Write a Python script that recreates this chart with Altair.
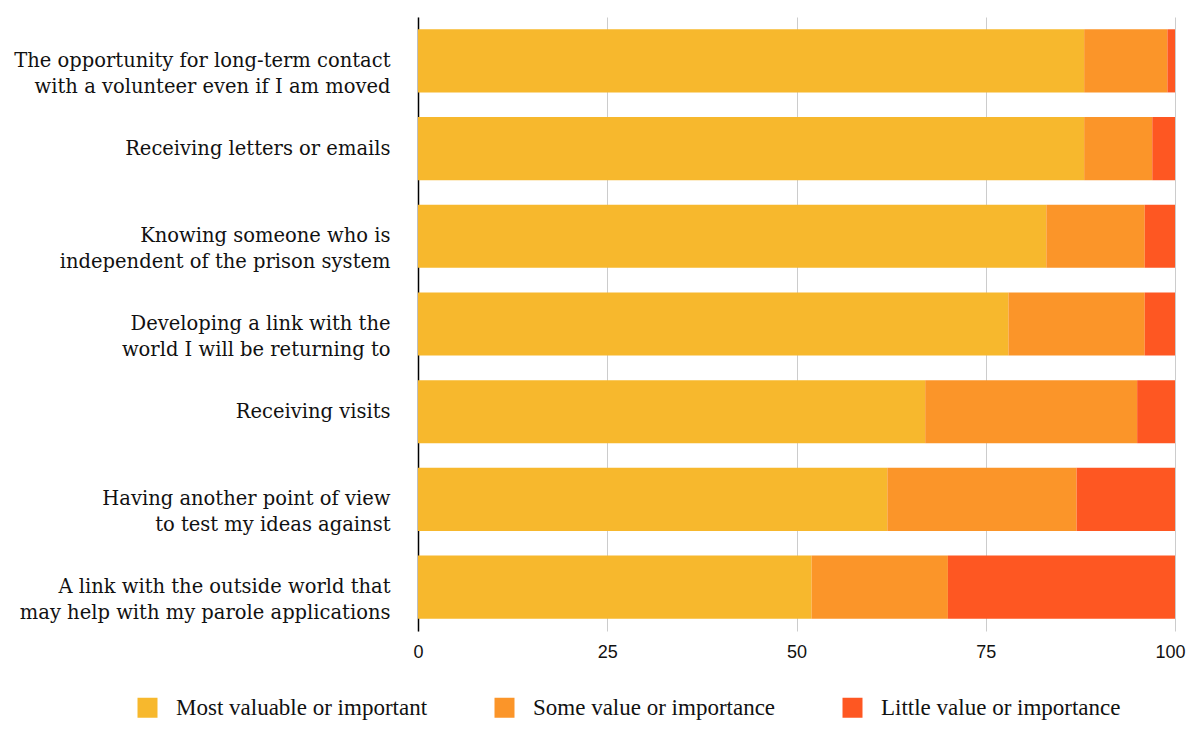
import altair as alt
import pandas as pd

categories = [
    "The opportunity for long-term contact|with a volunteer even if I am moved",
    "Receiving letters or emails",
    "Knowing someone who is|independent of the prison system",
    "Developing a link with the|world I will be returning to ",
    "Receiving visits",
    "Having another point of view|to test my ideas against",
    "A link with the outside world that|may help with my parole applications",
]
series = ["Most valuable or important", "Some value or importance", "Little value or importance"]
most = [88, 88, 83, 78, 67, 62, 52]
some = [11, 9, 13, 18, 28, 25, 18]
little = [1, 3, 4, 4, 5, 13, 30]
colors = ["#F7B82D", "#FB9529", "#FE5722"]

rows = []
for i, c in enumerate(categories):
    for j, (s, v) in enumerate(zip(series, [most[i], some[i], little[i]])):
        rows.append({"cat": c, "series": s, "value": v, "ord": j})
df = pd.DataFrame(rows)

chart = alt.Chart(df).mark_bar().encode(
    y=alt.Y("cat:N", sort=categories, title=None,
            scale=alt.Scale(paddingInner=0.28, paddingOuter=0.14),
            axis=alt.Axis(labelExpr="split(datum.label, '|')", labelFont="DejaVu Serif",
                          labelFontSize=19.5, labelColor="#111", labelLineHeight=26,
                          labelPadding=28, ticks=False, domainColor="#000", domainWidth=1.5,
                          labelLimit=500)),
    x=alt.X("value:Q", title=None, stack="zero",
            scale=alt.Scale(domain=[0, 100], nice=False),
            axis=alt.Axis(values=[0, 25, 50, 75, 100], grid=True, gridColor="#cccccc",
                          domain=False, ticks=False, labelFont="Liberation Sans",
                          labelFontSize=18, labelColor="#111", labelPadding=12,
                          labelFlush=False,
                          labelOffset={"expr": "datum.value == 100 ? -5 : 0"})),
    color=alt.Color("series:N", sort=series,
                    scale=alt.Scale(domain=series, range=colors),
                    legend=alt.Legend(title=None, orient="none", direction="horizontal",
                                      legendX=-282, legendY=679, symbolType="square",
                                      symbolSize=400, symbolStrokeWidth=0, labelFont="Liberation Serif",
                                      labelFontSize=23, labelColor="#111", columnPadding=65,
                                      labelOffset=17, labelLimit=400)),
    order=alt.Order("ord:Q"),
).properties(
    width=757, height=614,
    autosize=alt.AutoSizeParams(type="none"),
    padding={"left": 410, "top": 9, "right": 11, "bottom": 92},
).configure_view(stroke=None)

chart.save("out.html", embed_options={"renderer": "svg", "actions": False})
